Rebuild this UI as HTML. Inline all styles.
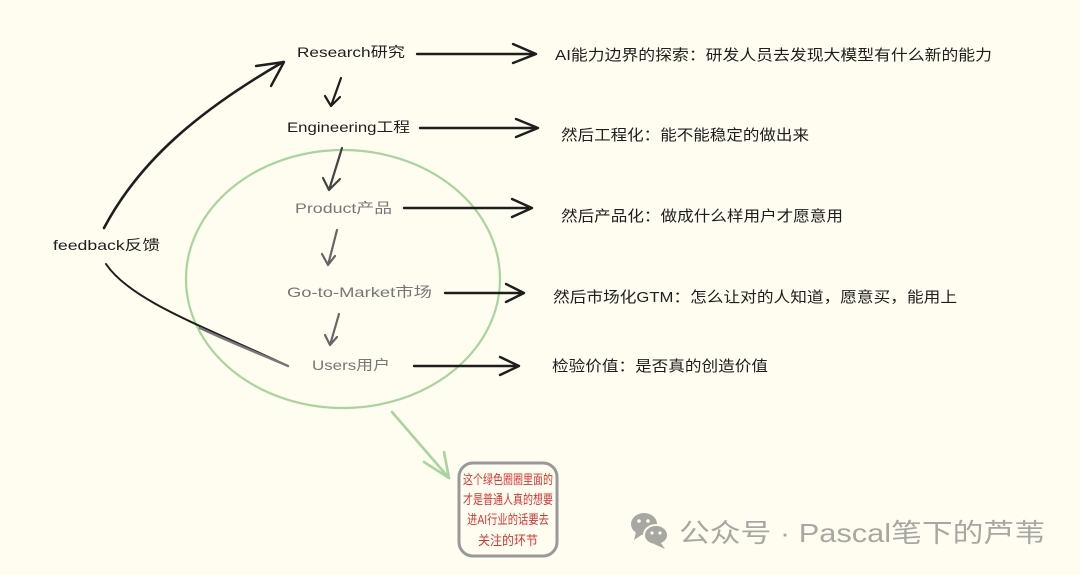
<!DOCTYPE html>
<html><head><meta charset="utf-8"><style>
html,body{margin:0;padding:0;background:#fffdef;}
svg{display:block}
text{font-family:"Liberation Sans","Noto Sans CJK SC",sans-serif;}
</style></head><body>
<svg width="1080" height="575" viewBox="0 0 1080 575" xmlns="http://www.w3.org/2000/svg">
<rect width="1080" height="575" fill="#fffdef"/>
<ellipse cx="343" cy="279" rx="157" ry="129" fill="none" stroke="#a9d4a0" stroke-width="2.2"/>
<g fill="none" stroke-linecap="round" stroke-linejoin="round">
<path d="M104 228 C140 160 200 110 283 62" stroke="#1e1e1e" stroke-width="2.6"/>
<path d="M256 66 L284 62 L271 86" stroke="#1e1e1e" stroke-width="2.4"/>
<path d="M106 264 C130 300 200 325 288 366" stroke="#1e1e1e" stroke-width="2"/>
<path d="M200 328 C230 342 260 354 288 366" stroke="#777" stroke-width="2.4"/>
<g stroke="#1e1e1e" stroke-width="2.4">
<path d="M417 54 L536 54 M513 44 L536 54 L513 63"/>
<path d="M420 128 L538 128 M516 119 L538 128 L516 137"/>
<path d="M404 208 L532 208 M512 199 L532 208 L512 217"/>
<path d="M445 293 L524 293 M506 284 L524 293 L506 302"/>
<path d="M414 366 L519 366 M500 357 L519 366 L500 375"/>
</g>
<path d="M341 78 L331 106 M325 96 L331 106 L340 97" stroke="#1e1e1e" stroke-width="2.2"/>
<path d="M342 148 L329 190 M323 178 L329 190 L340 179" stroke="#444" stroke-width="2.2"/>
<path d="M337 230 L328 265 M322 254 L328 265 L335 256" stroke="#666" stroke-width="2.2"/>
<path d="M339 314 L330 345 M325 335 L330 345 L337 337" stroke="#666" stroke-width="2.2"/>
<path d="M392 412 L449 478 M424 462 L449 478 L444 452" stroke="#a9d4a0" stroke-width="2.6"/>
<rect x="459" y="463" width="98" height="93" rx="14" stroke="#999" stroke-width="3"/>
</g>
<g font-size="14" fill="#1e1e1e">
<text x="297" y="57" textLength="108" lengthAdjust="spacingAndGlyphs">Research研究</text>
<text x="287" y="132" textLength="123" lengthAdjust="spacingAndGlyphs">Engineering工程</text>
<text x="53" y="250" textLength="107" lengthAdjust="spacingAndGlyphs">feedback反馈</text>
</g>
<g font-size="14" fill="#777">
<text x="295" y="213" textLength="97" lengthAdjust="spacingAndGlyphs">Product产品</text>
<text x="287" y="297" textLength="145" lengthAdjust="spacingAndGlyphs">Go-to-Market市场</text>
<text x="312" y="370" textLength="78" lengthAdjust="spacingAndGlyphs">Users用户</text>
</g>
<g font-size="15" fill="#1e1e1e">
<text x="555" y="60" textLength="437" lengthAdjust="spacingAndGlyphs">AI能力边界的探索：研发人员去发现大模型有什么新的能力</text>
<text x="561" y="140" textLength="248" lengthAdjust="spacingAndGlyphs">然后工程化：能不能稳定的做出来</text>
<text x="561" y="221" textLength="282" lengthAdjust="spacingAndGlyphs">然后产品化：做成什么样用户才愿意用</text>
<text x="553" y="302" textLength="404" lengthAdjust="spacingAndGlyphs">然后市场化GTM：怎么让对的人知道，愿意买，能用上</text>
<text x="552" y="371" textLength="216" lengthAdjust="spacingAndGlyphs">检验价值：是否真的创造价值</text>
</g>
<g font-size="13" fill="#d93434">
<text x="463" y="484" textLength="90" lengthAdjust="spacingAndGlyphs">这个绿色圈圈里面的</text>
<text x="463" y="504" textLength="90" lengthAdjust="spacingAndGlyphs">才是普通人真的想要</text>
<text x="467" y="524" textLength="82" lengthAdjust="spacingAndGlyphs">进AI行业的话要去</text>
<text x="478" y="545" textLength="60" lengthAdjust="spacingAndGlyphs">关注的环节</text>
</g>
<g fill="#a8a8a2">
<ellipse cx="644" cy="524" rx="13" ry="11"/>
<path d="M636 532 L634 540 L643 534 Z"/>
<ellipse cx="656" cy="535" rx="12" ry="10" stroke="#fffdef" stroke-width="2"/>
<path d="M661 543 L665 549 L654 544 Z"/>
<circle cx="639" cy="521" r="1.8" fill="#fffdef"/><circle cx="648" cy="521" r="1.8" fill="#fffdef"/>
<circle cx="652" cy="533" r="1.6" fill="#fffdef"/><circle cx="660" cy="533" r="1.6" fill="#fffdef"/>
<text x="679" y="542" font-size="26" textLength="366" lengthAdjust="spacingAndGlyphs">公众号 · Pascal笔下的芦苇</text>
</g>
</svg>
</body></html>
